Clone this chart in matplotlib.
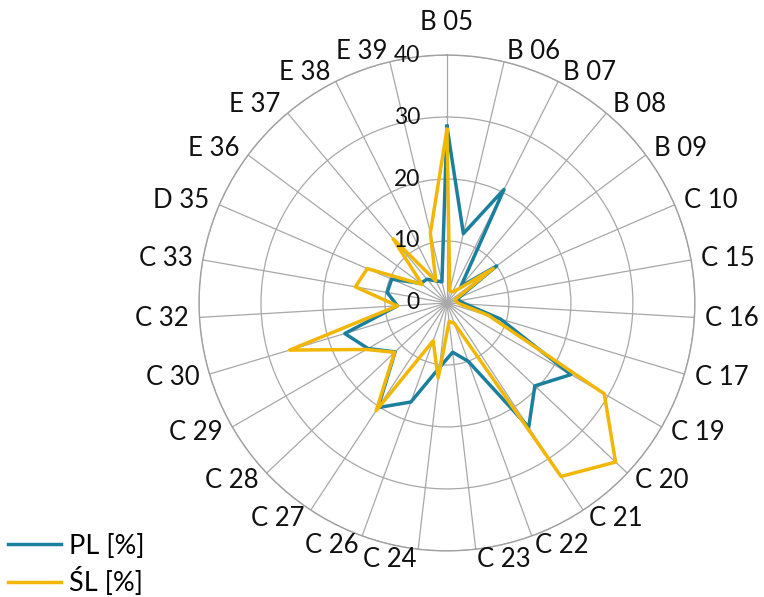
import numpy as np
import matplotlib.pyplot as plt
from matplotlib import transforms

plt.rcParams['font.family'] = ['Lato', 'DejaVu Sans']

categories = ["B 05", "B 06", "B 07", "B 08", "B 09", "C 10", "C 15", "C 16",
              "C 17", "C 19", "C 20", "C 21", "C 22", "C 23", "C 24", "C 26",
              "C 27", "C 28", "C 29", "C 30", "C 32", "C 33", "D 35", "E 36",
              "E 37", "E 38", "E 39"]
pl = [28.5, 11.5, 20.5, 3.5, 10.0, 2.0, 2.0, 3.0,
      9.0, 23.1, 19.5, 24.0, 10.0, 8.0, 10.5, 17.0,
      20.2, 11.5, 14.7, 17.2, 8.0, 9.8, 9.7, 5.3,
      5.0, 4.0, 3.5]
sl = [28.0, 2.0, 2.0, 3.0, 9.3, 1.5, 1.5, 2.0,
      7.0, 29.3, 37.4, 33.5, 3.5, 3.0, 12.2, 6.5,
      20.8, 11.6, 15.0, 26.5, 8.0, 15.0, 14.0, 5.0,
      13.5, 4.0, 11.6]
rticks = [0, 10, 20, 30, 40]

blue = "#1b7f9e"
yellow = "#f2b705"

n = len(categories)
angles = np.arange(n) * 2 * np.pi / n
ang_closed = np.append(angles, angles[0])

fig = plt.figure(figsize=(7.64, 5.97), dpi=100)
ax = fig.add_axes([0.2605, 0.077, 0.649, 0.831], projection='polar')
ax.set_theta_zero_location('N')
ax.set_theta_direction(-1)
ax.set_ylim(0, 40)
ax.spines['polar'].set_color('#a0a0a0')
ax.spines['polar'].set_linewidth(1.0)

ax.set_xticks(angles)
ax.set_xticklabels([])
ax.set_yticks(rticks)
ax.set_yticklabels([])
ax.grid(True, color='#a8a8a8', linewidth=0.9)

ax.plot(ang_closed, pl + pl[:1], color=blue, linewidth=2.5, label="PL [%]")
ax.plot(ang_closed, sl + sl[:1], color=yellow, linewidth=2.5, label="ŚL [%]")

# radial value labels left of the top spoke
off = transforms.offset_copy(ax.transData, fig=fig, x=-27, y=0, units='dots')
for r in rticks:
    ax.text(0, r, str(r), transform=off, ha='right', va='center', fontsize=16.5, color='#111111')

# category labels around the circle
for a, lab in zip(angles, categories):
    s, c = np.sin(a), np.cos(a)
    ha = 'left' if s > 0.05 else ('right' if s < -0.05 else 'center')
    if abs(s) < 0.05:
        ax.text(a, 43.2, lab, ha='center', va='bottom', fontsize=18.5, color='#111111', clip_on=False)
    else:
        ax.text(a, 41.7, lab, ha=ha, va='center', fontsize=18.5, color='#111111', clip_on=False)

fig.legend(loc='lower left', bbox_to_anchor=(0.0, -0.012), frameon=False, fontsize=19.5,
           handlelength=1.95, handletextpad=0.3, borderaxespad=0.0, borderpad=0.3,
           labelspacing=0.3)

fig.savefig("out.png", dpi=100)
